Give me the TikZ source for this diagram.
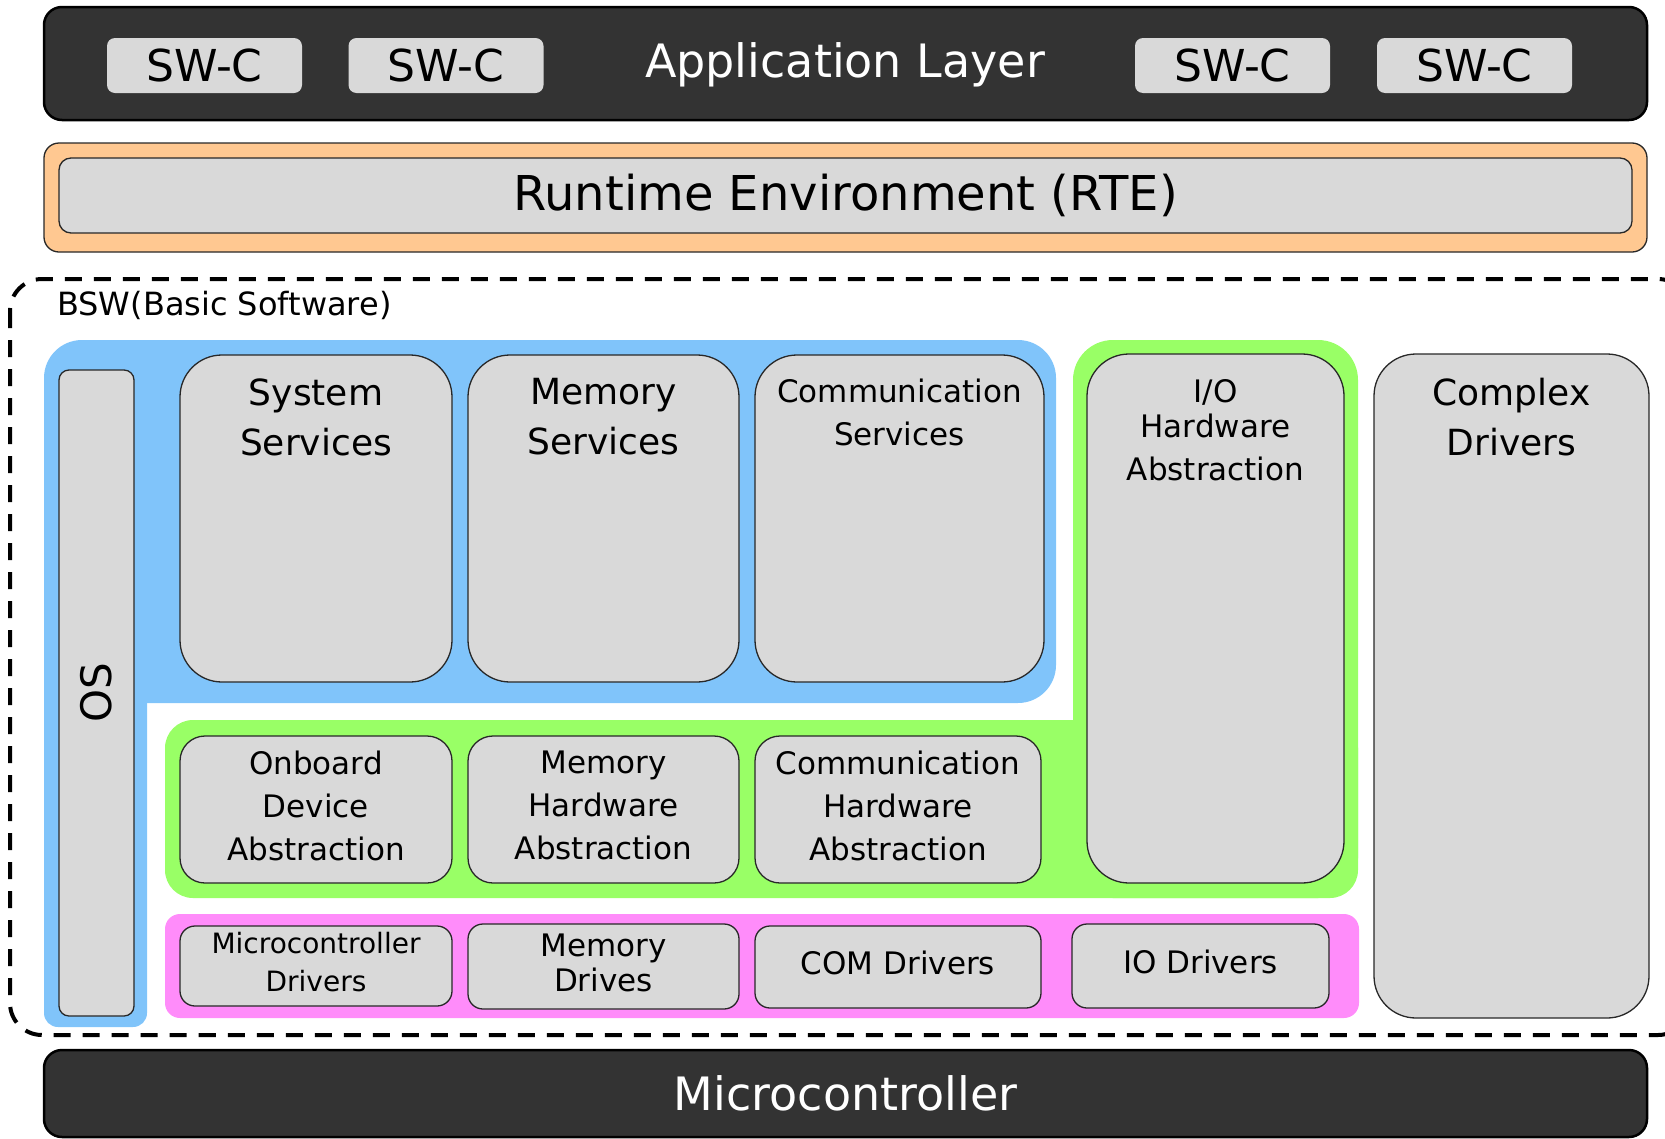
\documentclass[tikz,border=0pt]{standalone}
\usepackage{fontspec}
\setmainfont{DejaVu Sans}
\usetikzlibrary{positioning}
\definecolor{layerdark}{RGB}{51,51,51}
\definecolor{boxgrey}{RGB}{217,217,217}
\definecolor{rteorange}{RGB}{255,200,145}
\definecolor{svcblue}{RGB}{128,196,250}
\definecolor{abstgreen}{RGB}{153,255,102}
\definecolor{drvpink}{RGB}{255,140,250}
\definecolor{edgegrey}{RGB}{40,40,40}

\begin{document}
\begin{tikzpicture}[x=1pt, y=-1pt,
  layer/.style={draw=black, line width=2.5pt, fill=layerdark, rounded corners=18pt, inner sep=0pt},
  swc/.style={fill=boxgrey, rounded corners=8pt, minimum width=195pt, minimum height=55pt, inner sep=0pt, font=\fontsize{44}{52}\selectfont},
  module/.style={draw=edgegrey, line width=1.3pt, fill=boxgrey, inner sep=0pt},
  tallbox/.style={module, rounded corners=42pt, minimum height=327pt},
  absbox/.style={module, rounded corners=25pt, minimum height=147pt},
  drvbox/.style={module, rounded corners=15pt},
  toplbl/.style={anchor=north, inner sep=0pt, align=center},
  boxtxt/.style={inner sep=0pt, align=center, yshift=4pt},
  biglbl/.style={font=\fontsize{46}{55}\selectfont},
  midlbl/.style={font=\fontsize{36}{50}\selectfont},
  smalllbl/.style={font=\fontsize{31}{43}\selectfont}]
\useasboundingbox (0,0) rectangle (1665,1138);
\clip (0,0) rectangle (1665,1138);

% application layer
\node[layer, minimum width=1603pt, minimum height=113pt] (app) at (845.5,63.5) {};
\node[anchor=base, text=white, biglbl, inner sep=0pt] (applbl) at (845,77) {Application Layer};
\foreach \x/\n in {204.5/swca, 446/swcb, 1232.5/swcc, 1474.5/swcd}
  \node[swc] (\n) at (\x,65.5) {SW-C};

% RTE
\node[draw=edgegrey, line width=1.3pt, fill=rteorange, rounded corners=15pt, minimum width=1603pt, minimum height=109pt] (rteframe) at (845.5,197.5) {};
\node[module, rounded corners=12pt, minimum width=1573pt, minimum height=75pt, font=\fontsize{48}{56}\selectfont] (rte) at (845.5,195.5) {Runtime Environment (RTE)};

% basic software
\draw[line width=4pt, dash pattern=on 17pt off 12pt, rounded corners=32pt] (10,279) rectangle (1690,1035);
\node[anchor=base west, inner sep=0pt, font=\fontsize{32}{38}\selectfont] (bswlbl) at (57,315) {BSW(Basic Software)};

\fill[svcblue, rounded corners=38pt] (44,340) rectangle (1056,703);
\fill[svcblue, rounded corners=14pt] (44,500) rectangle (147,1027);
\fill[abstgreen, rounded corners=40pt] (1073,340) rectangle (1358,898);
\fill[abstgreen, rounded corners=28pt] (165,720) rectangle (1358,898);
\fill[drvpink, rounded corners=15pt] (165,914) rectangle (1359,1018);

\node[module, rounded corners=10pt, minimum width=75pt, minimum height=646pt] (os) at (96.5,693) {};
\node[rotate=90, font=\fontsize{42}{50}\selectfont] (oslbl) at (os) {OS};

% services
\node[tallbox, minimum width=272pt] (syssvc) at (316,518.5) {};
\node[tallbox, minimum width=271pt] (memsvc) at (603.5,518.5) {};
\node[tallbox, minimum width=289pt] (comsvc) at (899.5,518.5) {};
\node[toplbl, midlbl, below=24pt of syssvc.north] (syslbl) {System\\Services};
\node[toplbl, midlbl, below=24pt of memsvc.north] (memlbl) {Memory\\Services};
\node[toplbl, font=\fontsize{31}{43}\selectfont, below=24pt of comsvc.north] (comlbl) {Communication\\Services};

\node[module, rounded corners=42pt, minimum width=257pt, minimum height=529pt] (iohw) at (1215.5,618.5) {};
\node[toplbl, smalllbl, below=26pt of iohw.north] (iolbl) {I/O\\[-8pt]Hardware\\Abstraction};
\node[module, rounded corners=42pt, minimum width=275pt, minimum height=664pt] (cdd) at (1511.5,686) {};
\node[toplbl, midlbl, below=25pt of cdd.north] (cddlbl) {Complex\\Drivers};

% abstraction
\node[absbox, minimum width=272pt] (onboard) at (316,809.5) {};
\node[absbox, minimum width=271pt] (memhw) at (603.5,809.5) {};
\node[absbox, minimum width=286pt] (comhw) at (898,809.5) {};
\node[boxtxt, smalllbl] (onboardlbl) at (onboard) {Onboard\\Device\\Abstraction};
\node[boxtxt, smalllbl] (memhwlbl) at (memhw) {Memory\\Hardware\\Abstraction};
\node[boxtxt, smalllbl] (comhwlbl) at (comhw) {Communication\\Hardware\\Abstraction};

% drivers
\node[drvbox, minimum width=272pt, minimum height=80pt] (mcudrv) at (316,966) {};
\node[drvbox, minimum width=271pt, minimum height=85pt] (memdrv) at (603.5,966.5) {};
\node[drvbox, minimum width=286pt, minimum height=82pt] (comdrv) at (898,967) {};
\node[drvbox, minimum width=257pt, minimum height=84pt] (iodrv) at (1200.5,966) {};
\node[boxtxt, font=\fontsize{28}{38}\selectfont] (mcudrvlbl) at (mcudrv) {Microcontroller\\Drivers};
\node[boxtxt, font=\fontsize{31}{35}\selectfont] (memdrvlbl) at (memdrv) {Memory\\Drives};
\node[boxtxt, font=\fontsize{31}{35}\selectfont] (comdrvlbl) at (comdrv) {COM Drivers};
\node[boxtxt, font=\fontsize{31}{35}\selectfont] (iodrvlbl) at (iodrv) {IO Drivers};

% microcontroller
\node[layer, minimum width=1603pt, minimum height=87pt, text=white, biglbl] (mcu) at (845.5,1093.5) {Microcontroller};
\end{tikzpicture}
\end{document}
